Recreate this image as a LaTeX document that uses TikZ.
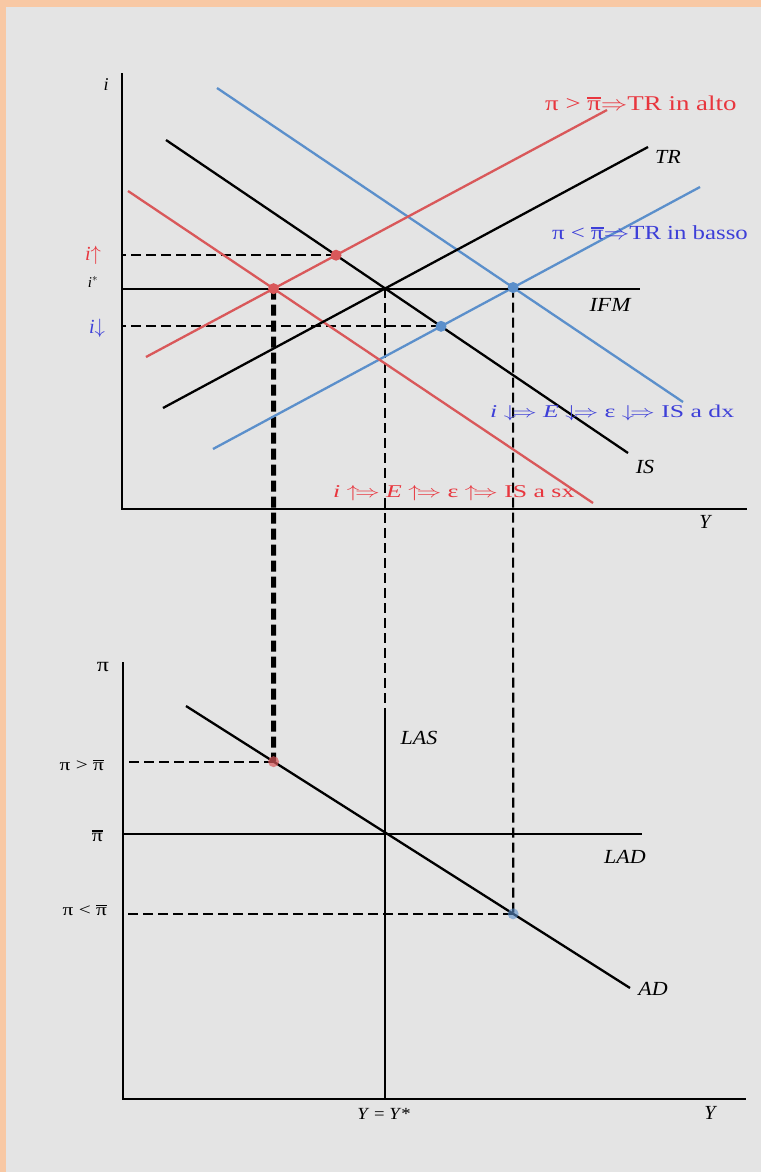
\documentclass[tikz,border=0pt]{standalone}
\usepackage{fontspec}
\usepackage{graphicx}
\setmainfont{Liberation Serif}
\usetikzlibrary{calc}
\definecolor{peach}{HTML}{F8C8A4}
\definecolor{bg}{HTML}{E4E4E4}
\definecolor{rline}{HTML}{D9585A}
\definecolor{bline}{HTML}{5B8FCB}
\definecolor{rtext}{HTML}{E8363E}
\definecolor{btext}{HTML}{3D3FD8}
\newcommand{\pibar}{\leavevmode\vbox{\hrule height 0.1em\kern 0.06em\hbox{π}}}
\newcommand{\wide}[2]{\scalebox{#1}[1]{#2}}
\begin{document}
\begin{tikzpicture}[x=1pt,y=-1pt,
  axis/.style={line width=2.6pt, black},
  curve/.style={line width=2.3pt},
  guide/.style={line width=2.2pt, dash pattern=on 10pt off 5pt},
  thickguide/.style={line width=5pt, dash pattern=on 11pt off 5pt},
  dot/.style={circle, inner sep=0pt, minimum size=11pt},
  lab/.style={inner sep=0pt, font=\fontsize{20}{22}\selectfont\itshape},
  small/.style={inner sep=0pt, font=\fontsize{17}{19}\selectfont},
  note/.style={inner sep=0pt, anchor=west, font=\fontsize{20}{22}\selectfont},
]
\useasboundingbox (0,0) rectangle (761,1172);
\fill[peach] (0,0) rectangle (761,1172);
\fill[bg] (6,7) rectangle (761,1172);

% ---------- top panel ----------
\coordinate (O1) at (122,509);
\coordinate (iTop) at (122,73);
\coordinate (YEnd) at (747,509);
\coordinate (ifmL) at (122,289);
\coordinate (ifmR) at (640,289);

\coordinate (IS1) at (166,140);  \coordinate (IS2) at (628,453);
\coordinate (TR1) at (163,408);  \coordinate (TR2) at (648,147);
\coordinate (rTR1) at (146,357); \coordinate (rTR2) at (607,110);
\coordinate (rIS1) at (128,191); \coordinate (rIS2) at (593,503);
\coordinate (bIS1) at (217,88);  \coordinate (bIS2) at (683,402);
\coordinate (bTR1) at (213,449); \coordinate (bTR2) at (700,187);

\coordinate (E0) at (intersection of IS1--IS2 and TR1--TR2);
\coordinate (Er) at (intersection of rIS1--rIS2 and rTR1--rTR2);
\coordinate (Ea) at (intersection of IS1--IS2 and rTR1--rTR2);
\coordinate (Eb) at (intersection of bIS1--bIS2 and bTR1--bTR2);
\coordinate (Ec) at (intersection of IS1--IS2 and bTR1--bTR2);

% ---------- bottom panel ----------
\coordinate (O2) at (123,1099);
\coordinate (piTop) at (123,662);
\coordinate (YEnd2) at (746,1099);
\coordinate (ladL) at (123,834);
\coordinate (ladR) at (642,834);
\coordinate (AD1) at (186,706);
\coordinate (AD2) at (630,988);
\coordinate (lasTop) at (E0 |- 0,717);
\coordinate (lasBot) at (E0 |- O2);
\coordinate (ErLow) at (Er |- O2);
\coordinate (EbLow) at (Eb |- O2);
\coordinate (Fr) at (intersection of AD1--AD2 and Er--ErLow);
\coordinate (Fb) at (intersection of AD1--AD2 and Eb--EbLow);

% guides
\draw[guide] (Ea) -- (Ea -| O1);
\draw[guide] (Ec) -- (Ec -| O1);
\draw[thickguide] (Er) -- (Fr);
\draw[guide] (E0) -- (lasTop);
\draw[guide] (Eb) -- (Fb);
\draw[guide] (Fr) -- (Fr -| O2);
\draw[guide] (Fb) -- (Fb -| O2);

% curves top
\draw[curve, bline] (bIS1) -- (bIS2);
\draw[curve, bline] (bTR1) -- (bTR2);
\draw[curve, rline] (rIS1) -- (rIS2);
\draw[curve, rline] (rTR1) -- (rTR2);
\draw[curve] (IS1) -- (IS2);
\draw[curve] (TR1) -- (TR2);
\draw[axis] (ifmL) -- (ifmR);
\draw[axis] (iTop) -- (O1) -- (YEnd);

% curves bottom
\draw[axis] (piTop) -- (O2) -- (YEnd2);
\draw[axis] (ladL) -- (ladR);
\draw[axis] (lasTop) -- (lasBot);
\draw[curve] (AD1) -- (AD2);

% dots
\node[dot, fill=rline] (dEr) at (Er) {};
\node[dot, fill=rline] (dEa) at (Ea) {};
\node[dot, fill=bline] (dEb) at (Eb) {};
\node[dot, fill=bline] (dEc) at (Ec) {};
\node[dot, fill=rline, opacity=0.7] (dFr) at (Fr) {};
\node[dot, fill=bline, opacity=0.6] (dFb) at (Fb) {};

% labels top
\node[lab, font=\fontsize{18}{20}\selectfont\itshape] (li) at (106,85) {i};
\node[lab] (lY1) at (705,522) {Y};
\node[lab, text=rtext] (liup) at (93,255) {\textit{i}$\uparrow$};
\node[small, font=\fontsize{15}{17}\selectfont] (listar) at (93,282) {\textit{i}$^{*}$};
\node[lab, text=btext] (lidn) at (97,328) {\textit{i}$\downarrow$};
\node[lab] (lIFM) at (610,305) {\wide{1.15}{IFM}};
\node[lab] (lTR) at (668,157) {\wide{1.1}{TR}};
\node[lab] (lIS) at (645,467) {\wide{1.1}{IS}};
\node[note, text=rtext, font=\fontsize{21}{23}\selectfont] (nUp) at (545,103) {\wide{1.28}{π > \pibar$\Rightarrow$TR in alto}};
\node[note, text=btext] (nDn) at (552,233) {\wide{1.24}{π < \pibar$\Rightarrow$TR in basso}};
\node[note, text=btext, font=\fontsize{18}{20}\selectfont] (nISd) at (490,413) {\wide{1.43}{\textit{i} $\downarrow\!\Rightarrow$ \textit{E} $\downarrow\!\Rightarrow$ ε $\downarrow\!\Rightarrow$ IS a dx}};
\node[note, text=rtext, font=\fontsize{18}{20}\selectfont] (nISs) at (333,493) {\wide{1.43}{\textit{i} $\uparrow\!\Rightarrow$ \textit{E} $\uparrow\!\Rightarrow$ ε $\uparrow\!\Rightarrow$ IS a sx}};

% labels bottom
\node[small, font=\fontsize{20}{22}\selectfont] (lpi) at (103,667) {\wide{1.2}{π}};
\node[small, anchor=east] (lpg) at (104,765) {\wide{1.25}{π > \pibar}};
\node[small, anchor=east, font=\fontsize{18}{20}\selectfont] (lpb) at (103,836) {\wide{1.2}{\pibar}};
\node[small, anchor=east] (lpl) at (107,910) {\wide{1.25}{π < \pibar}};
\node[lab] (lLAS) at (419,738) {\wide{1.1}{LAS}};
\node[lab] (lLAD) at (625,857) {\wide{1.1}{LAD}};
\node[lab] (lAD) at (653,989) {\wide{1.1}{AD}};
\node[small] (lYY) at (384,1114) {\wide{1.1}{\textit{Y} = \textit{Y}*}};
\node[lab] (lY2) at (710,1113) {Y};
\end{tikzpicture}
\end{document}
